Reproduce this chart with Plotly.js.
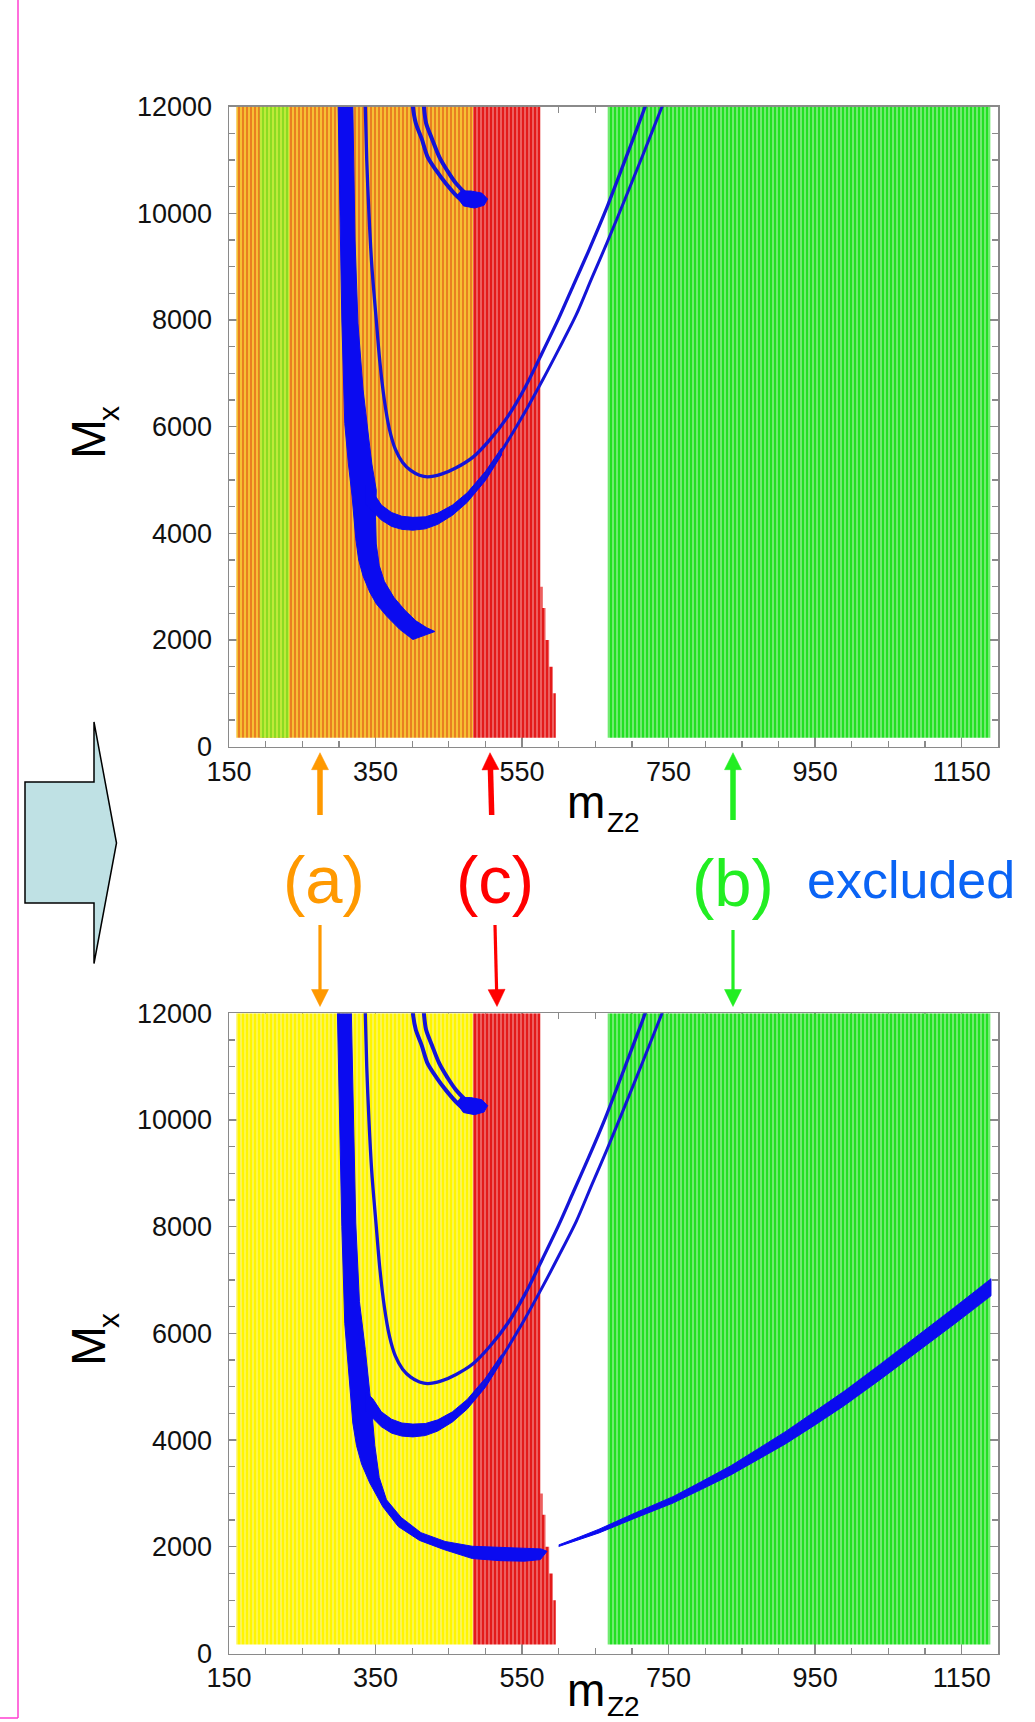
<!DOCTYPE html>
<html><head><meta charset="utf-8">
<script src="https://cdn.plot.ly/plotly-3.0.1.min.js"></script>
<style>html,body{margin:0;padding:0;background:#fff;} #chart{width:1035px;height:1722px;}</style>
</head><body><div id="chart"></div>
<script>
// ---------------- DATA (x = m_Z2, y = M_x) ----------------
const xRange = [150, 1200];
const yRange = [0, 12000];
const xTickVals = [150, 350, 550, 750, 950, 1150];
const xTickText = ['150', '350', '550', '750', '950', '1150'];
const yTickVals = [0, 2000, 4000, 6000, 8000, 10000, 12000];
const yTickText = ['0', '2000', '4000', '6000', '8000', '10000', '12000'];

// scanned regions
const scanLow = 170, scanHigh = 12000;
const regionA = [160, 483];          // (a) orange (top) / yellow (bottom)
const stripTop = [192, 232];         // light-green strip, top panel only
const regionC_x = [483, 575, 575, 578, 578, 582, 582, 587, 587, 592, 592, 596, 596, 483];
const regionC_y = [12000, 12000, 3000, 3000, 2600, 2600, 2000, 2000, 1500, 1500, 1000, 1000, 170, 170];
const regionB = [667, 1189];         // (b) green

// excluded (blue) regions
const bandTop_x = [299, 301, 304, 308, 313, 318, 320, 323, 327, 333, 342, 351, 365, 383, 401, 431, 420, 405, 390, 375, 362, 355, 351, 350, 351, 345, 341, 333, 326, 322, 319];
const bandTop_y = [12000, 10000, 8000, 6060, 5300, 4700, 4300, 3900, 3500, 3200, 2900, 2680, 2450, 2200, 2010, 2160, 2230, 2360, 2560, 2800, 3100, 3400, 3800, 4300, 4810, 5300, 5750, 6690, 7940, 9500, 12000];

const bandBot_x = [298, 301, 304, 308, 313, 319, 324, 331, 342, 360, 381, 410, 443, 482, 520, 553, 575, 584, 576, 540, 510, 482, 445, 412, 385, 365, 355, 349, 346, 342, 336, 328, 323, 320, 317];
const bandBot_y = [12000, 10000, 8000, 6190, 5300, 4320, 3900, 3550, 3200, 2750, 2380, 2120, 1950, 1780, 1740, 1730, 1760, 1915, 1960, 1975, 1990, 2010, 2100, 2265, 2550, 2880, 3300, 3900, 4380, 4940, 5700, 6600, 8070, 10000, 12000];

const uLowThick_x = [336, 346, 358, 372, 386, 401, 418, 435, 455, 475, 500, 522, 522, 500, 475, 455, 435, 418, 401, 386, 372, 358, 346, 336];
const uLowThick_y = [4550, 4420, 4250, 4130, 4075, 4060, 4085, 4170, 4340, 4580, 4990, 5470, 5600, 5160, 4760, 4530, 4380, 4310, 4300, 4320, 4390, 4530, 4780, 4900];

const uLowLine_x = [483, 500, 519, 550, 579, 600, 624, 645, 666, 690, 715, 741, 760];
const uLowLine_y = [4800, 5100, 5480, 6180, 6900, 7450, 8100, 8780, 9450, 10250, 11100, 12000, 12650];

const uUp_x = [334, 336, 338, 341, 345, 351, 356, 362, 369, 377, 387, 398, 410, 421, 440, 460, 483, 505, 530, 555, 578, 600, 620, 640, 664, 690, 714, 730];
const uUp_y = [12600, 12000, 11000, 10000, 9000, 8000, 7200, 6500, 5950, 5580, 5330, 5180, 5090, 5060, 5110, 5230, 5430, 5740, 6180, 6760, 7400, 8030, 8650, 9270, 10050, 10980, 11850, 12450];

const smallOuter_x = [399, 401, 405, 413, 421, 433, 446, 462, 475, 490];
const smallOuter_y = [12500, 12000, 11690, 11400, 11060, 10800, 10560, 10310, 10170, 10150];
const smallInner_x = [414, 416, 419, 427, 437, 448, 460, 478, 495];
const smallInner_y = [12500, 12000, 11690, 11400, 11060, 10800, 10560, 10330, 10300];
const blob_x = [460, 470, 485, 498, 503, 495, 480, 466];
const blob_y = [10330, 10140, 10100, 10150, 10270, 10380, 10420, 10420];

// bottom panel only: band crossing region (b)
const greenBand_x = [600, 628, 655, 705, 756, 795, 835, 872, 910, 950, 990, 1040, 1090, 1140, 1190];
const greenBandLow_y = [2005, 2132, 2260, 2542, 2820, 3078, 3348, 3635, 3933, 4285, 4649, 5147, 5654, 6175, 6704];
const greenBandUp_y = [2035, 2182, 2330, 2638, 2940, 3222, 3518, 3835, 4163, 4535, 4919, 5433, 5954, 6485, 7024];

// ---------------- STYLE ----------------
const FONT = 'Liberation Sans, Arial, Helvetica, sans-serif';
const W = 1035, H = 1722;
const px = v => v / W, py = v => 1 - v / H;
const BLUE = '#0b0bf0', BLUE_LINE = '#1414d8';

function rectX(a) { return [a[0], a[1], a[1], a[0], a[0]]; }
function rectY(lo, hi) { return [lo, lo, hi, hi, lo]; }
function region(xs, ys, xa, ya, bg, fg, sol) {
  return {type: 'scatter', mode: 'lines', x: xs, y: ys, xaxis: xa, yaxis: ya,
    fill: 'toself', fillcolor: bg, line: {width: 0, color: bg},
    fillpattern: {shape: '|', bgcolor: bg, fgcolor: fg, size: 4, solidity: sol || 0.5},
    hoverinfo: 'skip', showlegend: false};
}
function poly(xs, ys, xa, ya) {
  return {type: 'scatter', mode: 'lines', x: xs, y: ys, xaxis: xa, yaxis: ya,
    fill: 'toself', fillcolor: BLUE, line: {width: 1, color: BLUE},
    hoverinfo: 'skip', showlegend: false};
}
function curve(xs, ys, xa, ya, w) {
  return {type: 'scatter', mode: 'lines', x: xs, y: ys, xaxis: xa, yaxis: ya,
    line: {width: w, color: BLUE_LINE, shape: 'spline', smoothing: 0.8},
    hoverinfo: 'skip', showlegend: false};
}

const traces = [];
// ---- top panel
traces.push(region(rectX(regionA), rectY(scanLow, scanHigh), 'x', 'y', '#f6c034', '#e8781e', 0.45));
traces.push(region(rectX(stripTop), rectY(scanLow, scanHigh), 'x', 'y', '#bfe93a', '#8bdc22', 0.5));
traces.push(region(regionC_x, regionC_y, 'x', 'y', '#f07070', '#e41a1a', 0.6));
traces.push(region(rectX(regionB), rectY(scanLow, scanHigh), 'x', 'y', '#84ee84', '#22e022', 0.6));
traces.push(poly(bandTop_x, bandTop_y, 'x', 'y'));
traces.push(poly(uLowThick_x, uLowThick_y, 'x', 'y'));
traces.push(curve(uLowLine_x, uLowLine_y, 'x', 'y', 3));
traces.push(curve(uUp_x, uUp_y, 'x', 'y', 3.3));
traces.push(curve(smallOuter_x, smallOuter_y, 'x', 'y', 4));
traces.push(curve(smallInner_x, smallInner_y, 'x', 'y', 4));
traces.push(poly(blob_x, blob_y, 'x', 'y'));
// ---- bottom panel
traces.push(region(rectX(regionA), rectY(scanLow, scanHigh), 'x2', 'y2', '#faf566', '#fff500', 0.6));
traces.push(region(regionC_x, regionC_y, 'x2', 'y2', '#f07070', '#e41a1a', 0.6));
traces.push(region(rectX(regionB), rectY(scanLow, scanHigh), 'x2', 'y2', '#84ee84', '#22e022', 0.6));
traces.push(poly(bandBot_x, bandBot_y, 'x2', 'y2'));
traces.push(poly(uLowThick_x, uLowThick_y, 'x2', 'y2'));
traces.push(curve(uLowLine_x, uLowLine_y, 'x2', 'y2', 3));
traces.push(curve(uUp_x, uUp_y, 'x2', 'y2', 3.3));
traces.push(curve(smallOuter_x, smallOuter_y, 'x2', 'y2', 4));
traces.push(curve(smallInner_x, smallInner_y, 'x2', 'y2', 4));
traces.push(poly(blob_x, blob_y, 'x2', 'y2'));
traces.push(poly(greenBand_x.concat(greenBand_x.slice().reverse()),
                 greenBandLow_y.concat(greenBandUp_y.slice().reverse()), 'x2', 'y2'));

const AX = '#8a8a8a';
function xAxis(anchor) {
  return {domain: [px(229), px(998.3)], anchor: anchor, range: xRange,
    tickmode: 'array', tickvals: xTickVals, ticktext: xTickText,
    ticks: 'inside', ticklen: 10, tickwidth: 1.3, tickcolor: AX,
    minor: {tickmode: 'linear', tick0: 150, dtick: 50, ticks: 'inside', ticklen: 6, tickcolor: AX, showgrid: false},
    showline: true, linecolor: AX, linewidth: 1.5, mirror: 'ticks',
    showgrid: false, zeroline: false, layer: 'below traces', ticklabelstandoff: 0,
    tickfont: {family: FONT, size: 27, color: '#111'}};
}
function yAxis(anchor, top, bottom) {
  return {domain: [py(bottom), py(top)], anchor: anchor, range: yRange,
    tickmode: 'array', tickvals: yTickVals, ticktext: yTickText,
    ticks: 'inside', ticklen: 10, tickwidth: 1.3, tickcolor: AX,
    minor: {tickmode: 'linear', tick0: 0, dtick: 500, ticks: 'inside', ticklen: 6, tickcolor: AX, showgrid: false},
    showline: true, linecolor: AX, linewidth: 1.5, mirror: 'ticks',
    showgrid: false, zeroline: false, layer: 'below traces', ticklabelstandoff: 10,
    tickfont: {family: FONT, size: 27, color: '#111'}};
}

// arrows drawn as shapes (shaft + triangular head)
const ORANGE = '#ff9900', RED = '#ff0000', GREEN = '#22ee22';
function arrowShapes(xt, yt, xh, yh, color, w) {
  const dx = xh - xt, dy = yh - yt, L = Math.hypot(dx, dy);
  const ux = dx / L, uy = dy / L, hl = 17, hw = 8.5;
  const bx = xh - ux * hl, by = yh - uy * hl;
  const p1 = [bx - uy * hw, by + ux * hw], p2 = [bx + uy * hw, by - ux * hw];
  return [
    {type: 'line', xref: 'paper', yref: 'paper', x0: px(xt), y0: py(yt), x1: px(bx + ux), y1: py(by + uy),
     line: {color: color, width: w}},
    {type: 'path', xref: 'paper', yref: 'paper', fillcolor: color, line: {color: color, width: 0.5},
     path: `M ${px(xh)},${py(yh)} L ${px(p1[0])},${py(p1[1])} L ${px(p2[0])},${py(p2[1])} Z`}
  ];
}

const shapes = [
  // block arrow on the left
  {type: 'path', xref: 'paper', yref: 'paper', layer: 'above',
   path: `M ${px(25)},${py(782)} L ${px(94)},${py(782)} L ${px(94)},${py(722)} L ${px(116.5)},${py(843)} L ${px(94)},${py(963.5)} L ${px(94)},${py(903)} L ${px(25)},${py(903)} Z`,
   fillcolor: '#bfe1e4', line: {color: '#000', width: 1.5}},
  // pink frame corner
  {type: 'line', xref: 'paper', yref: 'paper', x0: px(18), x1: px(18), y0: py(0), y1: py(1718), line: {color: '#ff3fd0', width: 1.5}},
  {type: 'line', xref: 'paper', yref: 'paper', x0: px(0), x1: px(18), y0: py(1718), y1: py(1718), line: {color: '#ff3fd0', width: 1.5}}
].concat(
  arrowShapes(320, 815, 320, 752.7, ORANGE, 5.5),
  arrowShapes(491.7, 815, 490, 752.7, RED, 5.5),
  arrowShapes(733, 820, 733, 752.7, GREEN, 5.5),
  arrowShapes(320, 925, 320, 1006.5, ORANGE, 3.2),
  arrowShapes(495, 925, 497, 1006.5, RED, 3.2),
  arrowShapes(733, 930, 733, 1006.5, GREEN, 3.2)
);

function label(x, y, text, color, size, anchor, angle) {
  return {xref: 'paper', yref: 'paper', x: px(x), y: py(y), text: text, showarrow: false,
    xanchor: anchor || 'center', yanchor: 'middle', textangle: angle || 0,
    font: {family: FONT, size: size, color: color}};
}
const annotations = [
  label(324.4, 879, '(a)', ORANGE, 67),
  label(495, 879, '(c)', RED, 67),
  label(732.7, 882, '(b)', GREEN, 67),
  label(805, 880, 'excluded', '#0a64f5', 52, 'left'),
  // x-axis titles: m with subscript Z2
  label(565, 802, 'm', '#000', 46, 'left'),
  label(605, 822, 'Z2', '#000', 28, 'left'),
  label(565, 1690, 'm', '#000', 46, 'left'),
  label(605, 1706, 'Z2', '#000', 28, 'left'),
  // y-axis titles: M with subscript x (rotated)
  label(88, 439, 'M', '#000', 48, 'center', -90),
  label(108, 414, 'x', '#000', 30, 'center', -90),
  label(88, 1346, 'M', '#000', 48, 'center', -90),
  label(108, 1321, 'x', '#000', 30, 'center', -90)
];

const layout = {
  width: W, height: H, margin: {l: 0, r: 0, t: 0, b: 0},
  paper_bgcolor: '#fff', plot_bgcolor: '#fff', showlegend: false,
  font: {family: FONT},
  xaxis: xAxis('y'), yaxis: yAxis('x', 106.7, 746.7),
  xaxis2: xAxis('y2'), yaxis2: yAxis('x2', 1013.3, 1653.5),
  shapes: shapes, annotations: annotations
};
Plotly.newPlot('chart', traces, layout, {staticPlot: true, displayModeBar: false});
</script>
</body></html>
